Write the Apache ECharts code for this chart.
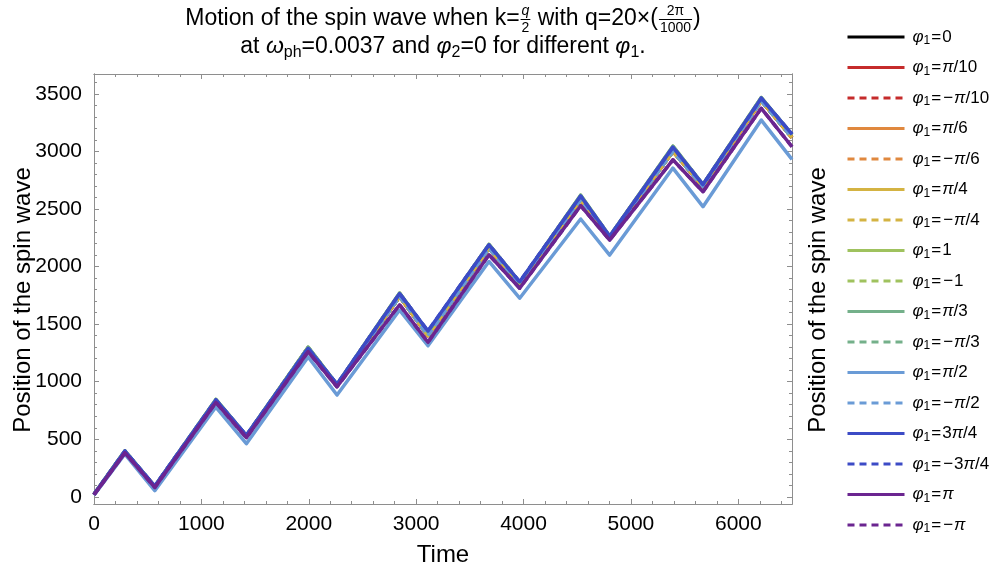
<!DOCTYPE html>
<html>
<head>
<meta charset="utf-8">
<script src="https://cdn.jsdelivr.net/npm/echarts@6/dist/echarts.min.js"></script>
<style>
  html, body { margin: 0; padding: 0; background: #ffffff; }
  #chart { width: 998px; height: 573px; }
</style>
</head>
<body>
<div id="chart"></div>
<script>
// ---- data: spin-wave position vs. time (turning points of each trajectory) ----
const timeVertices = [0, 288, 566, 1135, 1419, 1994, 2263, 2846, 3110, 3678, 3964, 4532, 4802, 5391, 5671, 6214, 6500];

// phi1 = +-3pi/4
const posBlue   = [22, 398, 94, 842, 534, 1290, 978, 1765, 1440, 2189, 1868, 2612, 2262, 3037, 2712, 3462, 3150];
// phi1 = 1, pi/3
const posGreen  = [22, 400, 92, 846, 532, 1300, 975, 1770, 1430, 2192, 1862, 2620, 2262, 3045, 2712, 3468, 3145];
// phi1 = 0, +-pi/10, +-pi/6, +-pi/4, -1, -pi/3, -pi/2
const posMain   = [20, 392, 88, 834, 524, 1295, 968, 1740, 1400, 2160, 1845, 2580, 2248, 3000, 2695, 3440, 3120];
// phi1 = +-pi
const posPurple = [18, 382, 82, 820, 514, 1260, 956, 1668, 1342, 2102, 1812, 2528, 2230, 2927, 2650, 3374, 3040];
// phi1 = pi/2
const posLow    = [14, 372, 54, 780, 462, 1215, 884, 1622, 1312, 2044, 1725, 2413, 2100, 2855, 2520, 3272, 2930];

const legendLabels = [
  'φ1=0', 'φ1=π/10', 'φ1=−π/10', 'φ1=π/6', 'φ1=−π/6', 'φ1=π/4', 'φ1=−π/4',
  'φ1=1', 'φ1=−1', 'φ1=π/3', 'φ1=−π/3', 'φ1=π/2', 'φ1=−π/2',
  'φ1=3π/4', 'φ1=−3π/4', 'φ1=π', 'φ1=−π'
];
const seriesCurves = [
  posMain, posMain, posMain, posMain, posMain, posMain, posMain,
  posGreen, posMain, posGreen, posMain, posLow, posMain,
  posBlue, posBlue, posPurple, posPurple
];

const xMajorTicks = [0, 1000, 2000, 3000, 4000, 5000, 6000];
const yMajorTicks = [0, 500, 1000, 1500, 2000, 2500, 3000, 3500];

// ---- styling ----
const seriesColors = [
  '#000000', '#c52b2b', '#c52b2b', '#e0883e', '#e0883e', '#d4b342', '#d4b342',
  '#9fc25e', '#9fc25e', '#74b08a', '#74b08a', '#6a9bd6', '#6a9bd6',
  '#3c4bc6', '#3c4bc6', '#6b2590', '#6b2590'
];
const seriesDashed = [false, false, true, false, true, false, true, false, true,
  false, true, false, true, false, true, false, true];

const FONT = '"Liberation Sans", Arial, sans-serif';
const FRAME = '#8e8e8e';
const X_MIN = 0, X_MAX = 6500, Y_MIN = -62, Y_MAX = 3672;

// minor ticks between the labelled ones
const xMinorTicks = [], yMinorTicks = [];
for (let v = 200; v < X_MAX; v += 200) if (v % 1000 !== 0) xMinorTicks.push(v);
for (let v = 100; v < Y_MAX; v += 100) if (v % 500 !== 0) yMinorTicks.push(v);

function axis(kind, pos, ticks, len, withLabels) {
  const a = {
    type: 'value', position: pos,
    min: kind === 'x' ? X_MIN : Y_MIN, max: kind === 'x' ? X_MAX : Y_MAX,
    axisLine: { show: true, onZero: false, lineStyle: { color: FRAME, width: 1 } },
    axisTick: { show: true, inside: true, length: len, customValues: ticks,
                lineStyle: { color: FRAME, width: 1 } },
    axisLabel: { show: withLabels },
    splitLine: { show: false },
    silent: true
  };
  if (withLabels) {
    a.axisLabel = {
      show: true, customValues: ticks, fontFamily: FONT, fontSize: 21, color: '#000',
      margin: kind === 'x' ? 10 : 12,
      formatter: v => String(Math.round(v))
    };
  }
  return a;
}

// ---- text layout helpers for the two-line title ----
const mctx = document.createElement('canvas').getContext('2d');
function fnt(size, italic) { return (italic ? 'italic ' : '') + size + 'px ' + FONT; }
function tw(text, font) { mctx.font = font; return mctx.measureText(text).width; }
function txt(x, y, text, font, align) {
  return { type: 'text', x: x, y: y, silent: true,
    style: { text: text, font: font, fill: '#000', align: align, verticalAlign: 'middle',
             textAlign: align, textVerticalAlign: 'middle' } };
}
const T = 23, SMALL = 14, SUB = 16, LABEL = 24;
function layoutLine(runs, cx, cy) {
  let total = 0;
  runs.forEach(r => {
    if (r.frac) r.w = Math.max(tw(r.frac[0], fnt(SMALL)), tw(r.frac[1], fnt(SMALL))) + 4;
    else r.w = tw(r.text, fnt(r.size || T, r.italic));
    total += r.w;
  });
  let x = cx - total / 2;
  const els = [];
  runs.forEach(r => {
    if (r.frac) {
      const mid = x + r.w / 2;
      els.push(txt(mid, cy - 8, r.frac[0], fnt(SMALL, r.italicNum), 'center'));
      els.push(txt(mid, cy + 9, r.frac[1], fnt(SMALL), 'center'));
      els.push({ type: 'line', silent: true,
        shape: { x1: x + 1, y1: cy + 0.5, x2: x + r.w - 1, y2: cy + 0.5 },
        style: { stroke: '#000', lineWidth: 1 } });
    } else {
      els.push(txt(x, cy + (r.dy || 0), r.text, fnt(r.size || T, r.italic), 'left'));
    }
    x += r.w;
  });
  return els;
}

const plotCx = 443;
const titleEls = [].concat(
  layoutLine([
    { text: 'Motion of the spin wave when k=' },
    { frac: ['q', '2'], italicNum: true },
    { text: ' with q=20×(' },
    { frac: ['2π', '1000'] },
    { text: ')' }
  ], plotCx, 19),
  layoutLine([
    { text: 'at ' },
    { text: 'ω', italic: true },
    { text: 'ph', size: SUB, dy: 6 },
    { text: '=0.0037 and ' },
    { text: 'φ', italic: true },
    { text: '2', size: SUB, dy: 6 },
    { text: '=0 for different ' },
    { text: 'φ', italic: true },
    { text: '1', size: SUB, dy: 6 },
    { text: '.' }
  ], plotCx, 47)
);

function frameLabel(x, y, text, rotated) {
  return { type: 'text', x: x, y: y, rotation: rotated ? Math.PI / 2 : 0, silent: true,
    style: { text: text, font: fnt(LABEL), fill: '#000', align: 'center', verticalAlign: 'middle',
             textAlign: 'center', textVerticalAlign: 'middle' } };
}
const frameLabels = [
  frameLabel(443, 555, 'Time', false),
  frameLabel(23, 300, 'Position of the spin wave', true),
  frameLabel(818, 300, 'Position of the spin wave', true)
];

// legend entries: italic phi / pi, subscript index
function legendRich(name) {
  let out = '';
  for (let i = 0; i < name.length; i++) {
    const c = name[i];
    if (c === 'φ' || c === 'π') out += '{i|' + c + '}';
    else if (/[0-9]/.test(c) && name[i - 1] === 'φ') out += '{s|' + c + '}';
    else if (c === '=' || c === '−') out += '{o|' + c + '}';
    else out += '{t|' + c + '}';
  }
  return out;
}

const series = legendLabels.map((name, k) => ({
  name: name,
  type: 'line',
  symbol: 'none',
  xAxisIndex: 0,
  yAxisIndex: 0,
  data: timeVertices.map((t, j) => [t, seriesCurves[k][j]]),
  lineStyle: { color: seriesColors[k], width: 3.5, type: seriesDashed[k] ? [7, 5] : 'solid',
               join: 'round' },
  itemStyle: { color: seriesColors[k] },
  emphasis: { disabled: true },
  silent: true,
  animation: false
}));

const chart = echarts.init(document.getElementById('chart'), null, { renderer: 'canvas' });
chart.setOption({
  animation: false,
  backgroundColor: '#ffffff',
  grid: { left: 94, right: 206, top: 74, bottom: 69, containLabel: false },
  xAxis: [
    axis('x', 'bottom', xMajorTicks, 5, true),
    axis('x', 'bottom', xMinorTicks, 3, false),
    axis('x', 'top', xMajorTicks, 5, false),
    axis('x', 'top', xMinorTicks, 3, false)
  ],
  yAxis: [
    axis('y', 'left', yMajorTicks, 5, true),
    axis('y', 'left', yMinorTicks, 3, false),
    axis('y', 'right', yMajorTicks, 5, false),
    axis('y', 'right', yMinorTicks, 3, false)
  ],
  legend: {
    orient: 'vertical', left: 846, top: 27, padding: 0,
    itemWidth: 57, itemHeight: 20, itemGap: 10.5,
    selectedMode: false,
    data: legendLabels,
    formatter: legendRich,
    itemStyle: { color: 'rgba(0,0,0,0)', borderColor: 'rgba(0,0,0,0)', borderWidth: 0, opacity: 0 },
    lineStyle: { width: 3 },
    textStyle: {
      fontFamily: FONT, fontSize: 17, color: '#000', lineHeight: 20, padding: [0, 0, 0, 3],
      rich: {
        t: { fontFamily: FONT, fontSize: 17, lineHeight: 20, color: '#000' },
        i: { fontFamily: FONT, fontSize: 17, lineHeight: 20, fontStyle: 'italic', color: '#000' },
        s: { fontFamily: FONT, fontSize: 12, lineHeight: 12, verticalAlign: 'bottom', color: '#000' },
        o: { fontFamily: FONT, fontSize: 17, lineHeight: 20, padding: [0, 1, 0, 1], color: '#000' }
      }
    }
  },
  graphic: titleEls.concat(frameLabels),
  series: series
});
</script>
</body>
</html>
